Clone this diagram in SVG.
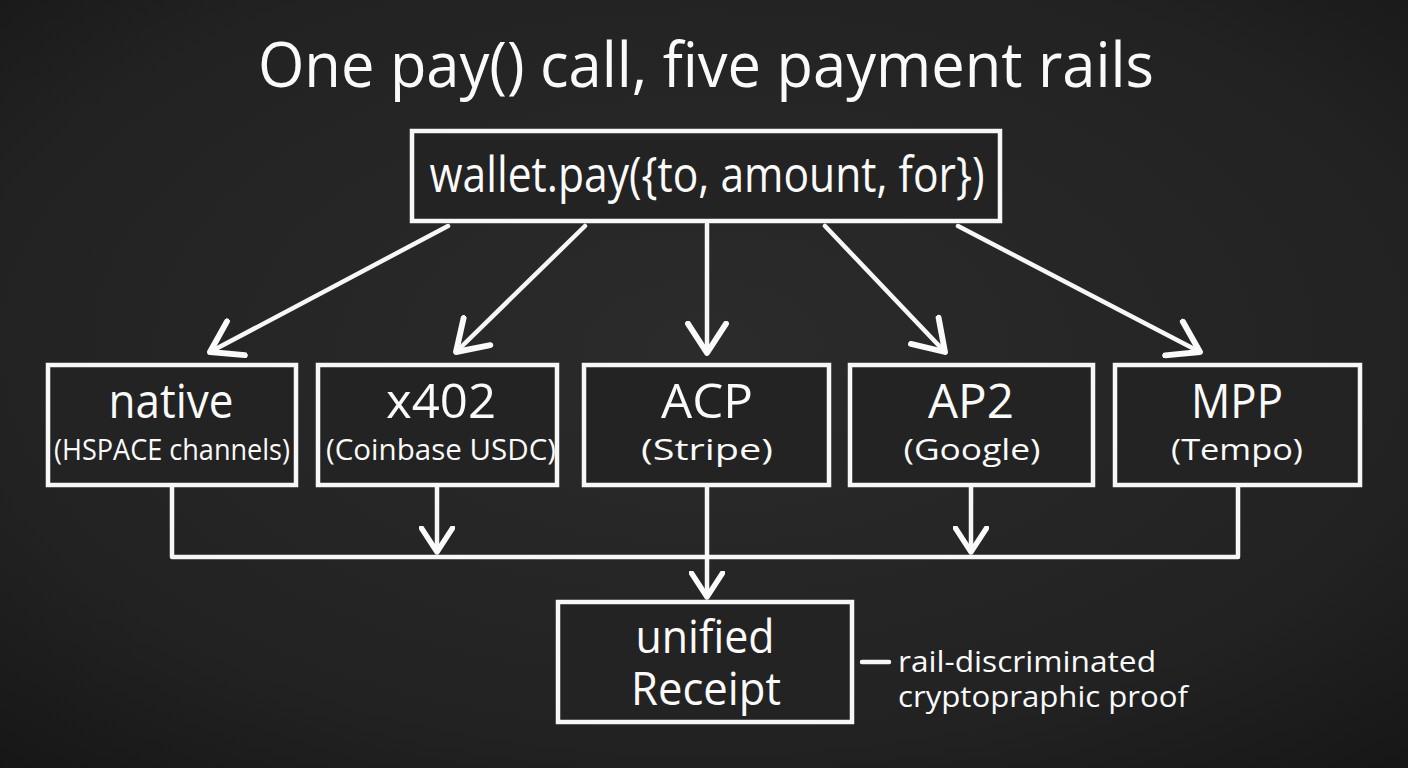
<svg xmlns="http://www.w3.org/2000/svg" width="1408" height="768" viewBox="0 0 1408 768">
<defs>
<radialGradient id="bg" cx="0.5" cy="0.45" r="0.75">
<stop offset="0" stop-color="#2b2b2b"/>
<stop offset="0.7" stop-color="#222222"/>
<stop offset="1" stop-color="#161616"/>
</radialGradient>
<marker id="arr" markerUnits="userSpaceOnUse" markerWidth="44" markerHeight="44" refX="22" refY="15" viewBox="0 0 30 30" orient="auto">
<path d="M2,2 L22,15 L2,28" fill="none" stroke="#fafafa" stroke-width="4" stroke-linecap="round" stroke-linejoin="round"/>
</marker>
<marker id="arrs" markerUnits="userSpaceOnUse" markerWidth="36" markerHeight="36" refX="22" refY="15" viewBox="0 0 30 30" orient="auto">
<path d="M2,2 L22,15 L2,28" fill="none" stroke="#fafafa" stroke-width="4.5" stroke-linecap="round" stroke-linejoin="round"/>
</marker>
<style>
.box{fill:#232323;stroke:#f7f7f7;stroke-width:4.5}
.ln{fill:none;stroke:#f7f7f7;stroke-width:4.5;stroke-linecap:round;stroke-linejoin:round}
text{font-family:"Open Sans","Liberation Sans",sans-serif;fill:#fafafa;text-anchor:middle}
.big{font-size:48px}
.sub{font-size:30px}
.note{font-size:30px;text-anchor:start}
</style>
</defs>
<rect width="1408" height="768" fill="url(#bg)"/>
<text x="706" y="87" style="font-size:62px" textLength="896" lengthAdjust="spacingAndGlyphs">One pay() call, five payment rails</text>

<g id="wallet">
<rect class="box" x="412" y="131" width="588" height="90"/>
<text x="707" y="192" style="font-size:50px" textLength="555" lengthAdjust="spacingAndGlyphs">wallet.pay({to, amount, for})</text>
</g>

<g id="native">
<rect class="box" x="48" y="365" width="248" height="120"/>
<text class="big" x="171" y="418" textLength="125" lengthAdjust="spacingAndGlyphs">native</text>
<text class="sub" x="172" y="460" textLength="236" lengthAdjust="spacingAndGlyphs">(HSPACE channels)</text>
</g>
<g id="x402">
<rect class="box" x="318" y="365" width="239" height="120"/>
<text class="big" x="441" y="418" textLength="110" lengthAdjust="spacingAndGlyphs">x402</text>
<text class="sub" x="441" y="460" textLength="230" lengthAdjust="spacingAndGlyphs">(Coinbase USDC)</text>
</g>
<g id="acp">
<rect class="box" x="584" y="365" width="245" height="120"/>
<text class="big" x="707" y="418" textLength="92" lengthAdjust="spacingAndGlyphs">ACP</text>
<text class="sub" x="707" y="460" textLength="132" lengthAdjust="spacingAndGlyphs">(Stripe)</text>
</g>
<g id="ap2">
<rect class="box" x="850" y="365" width="243" height="120"/>
<text class="big" x="971" y="418" textLength="86" lengthAdjust="spacingAndGlyphs">AP2</text>
<text class="sub" x="972" y="460" textLength="137" lengthAdjust="spacingAndGlyphs">(Google)</text>
</g>
<g id="mpp">
<rect class="box" x="1115" y="365" width="245" height="120"/>
<text class="big" x="1237" y="418" textLength="92" lengthAdjust="spacingAndGlyphs">MPP</text>
<text class="sub" x="1237" y="460" textLength="132" lengthAdjust="spacingAndGlyphs">(Tempo)</text>
</g>

<g id="receipt">
<rect class="box" x="558" y="602" width="294" height="120"/>
<text x="705" y="653" style="font-size:45px" textLength="139" lengthAdjust="spacingAndGlyphs">unified</text>
<text x="706" y="705" style="font-size:45px" textLength="150" lengthAdjust="spacingAndGlyphs">Receipt</text>
</g>

<g id="connectors">
<line class="ln" x1="448" y1="226" x2="210" y2="352" marker-end="url(#arr)"/>
<line class="ln" x1="585" y1="226" x2="456" y2="352" marker-end="url(#arr)"/>
<line class="ln" x1="707" y1="224" x2="707" y2="353" marker-end="url(#arr)"/>
<line class="ln" x1="825" y1="226" x2="945" y2="352" marker-end="url(#arr)"/>
<line class="ln" x1="958" y1="226" x2="1200" y2="352" marker-end="url(#arr)"/>
<polyline class="ln" points="172,487 172,557 1238,557 1238,487"/>
<line class="ln" x1="437" y1="487" x2="437" y2="552" marker-end="url(#arrs)"/>
<line class="ln" x1="971" y1="487" x2="971" y2="552" marker-end="url(#arrs)"/>
<line class="ln" x1="707" y1="487" x2="707" y2="597" marker-end="url(#arrs)"/>
<line class="ln" x1="862" y1="662" x2="889" y2="662"/>
</g>
<g id="annotation">
<text class="note" x="898" y="672" textLength="258" lengthAdjust="spacingAndGlyphs">rail-discriminated</text>
<text class="note" x="898" y="707" textLength="290" lengthAdjust="spacingAndGlyphs">cryptopraphic proof</text>
</g>
</svg>
